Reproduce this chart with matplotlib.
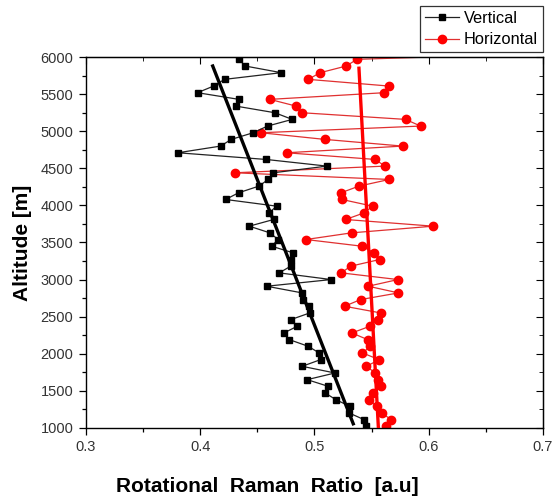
import matplotlib
matplotlib.use("Agg")
import matplotlib.pyplot as plt
from matplotlib.ticker import MultipleLocator

plt.rcParams['font.family'] = ['Liberation Sans', 'DejaVu Sans']

altitude = [1020, 1110, 1200, 1290, 1380, 1470, 1560, 1650, 1740, 1830,
            1920, 2010, 2100, 2190, 2280, 2370, 2460, 2550, 2640, 2730,
            2820, 2910, 3000, 3090, 3180, 3270, 3360, 3450, 3540, 3630,
            3720, 3810, 3900, 3990, 4080, 4170, 4260, 4350, 4440, 4530,
            4620, 4710, 4800, 4890, 4980, 5070, 5160, 5250, 5340, 5430,
            5520, 5610, 5700, 5790, 5880, 5970]

vertical = [0.545, 0.5436, 0.5305, 0.5311, 0.5188, 0.5095, 0.5121, 0.4937, 0.518, 0.4893,
            0.5054, 0.5042, 0.4946, 0.478, 0.4733, 0.485, 0.4794, 0.496, 0.4954, 0.4902,
            0.4893, 0.4582, 0.5147, 0.4692, 0.4792, 0.4792, 0.4815, 0.4625, 0.4683, 0.461,
            0.443, 0.4643, 0.4604, 0.4669, 0.4223, 0.4336, 0.4514, 0.4596, 0.464, 0.511,
            0.4576, 0.3805, 0.4179, 0.4272, 0.4464, 0.459, 0.4806, 0.4654, 0.431, 0.434,
            0.3977, 0.4118, 0.4214, 0.471, 0.4394, 0.434]

altitude_h = altitude + [6060]
horizontal = [0.5626, 0.5672, 0.5591, 0.5544, 0.548, 0.5515, 0.5585, 0.5561, 0.5532, 0.5456,
              0.5567, 0.5421, 0.549, 0.5466, 0.5328, 0.5486, 0.5556, 0.558, 0.5264, 0.5404,
              0.5736, 0.5471, 0.5731, 0.5235, 0.5317, 0.557, 0.5524, 0.5416, 0.4926, 0.5326,
              0.604, 0.5273, 0.5436, 0.5509, 0.5241, 0.5232, 0.539, 0.5655, 0.4304, 0.5617,
              0.5532, 0.4756, 0.5772, 0.5092, 0.4532, 0.5929, 0.5798, 0.489, 0.4838, 0.461,
              0.5611, 0.565, 0.4946, 0.5051, 0.5279, 0.5372, 0.72]

fit_v_x = [0.534, 0.411]
fit_v_alt = [1055, 5880]
fit_h_x = [0.556, 0.539]
fit_h_alt = [1000, 5850]

xticks = [0.3, 0.4, 0.5, 0.6, 0.7]
yticks = [1000, 1500, 2000, 2500, 3000, 3500, 4000, 4500, 5000, 5500, 6000]

fig = plt.figure(figsize=(5.54, 5.01), dpi=100)
ax = fig.add_axes([0.155, 0.146, 0.825, 0.740])

ax.plot(vertical, altitude, color='#222222', lw=0.9, marker='s', ms=5,
        mfc='black', mec='black', label='Vertical', zorder=3)
ax.plot(horizontal, altitude_h, color='#e03030', lw=0.9, marker='o', ms=6,
        mfc='red', mec='red', label='Horizontal', zorder=2)
ax.plot(fit_v_x, fit_v_alt, color='black', lw=2.4, zorder=4)
ax.plot(fit_h_x, fit_h_alt, color='red', lw=2.4, zorder=4)

ax.set_xlim(0.3, 0.7)
ax.set_ylim(1000, 6000)
ax.set_xticks(xticks)
ax.set_yticks(yticks)
ax.set_xticklabels([f"{v:g}" for v in xticks])
ax.set_yticklabels([str(v) for v in yticks])
ax.xaxis.set_minor_locator(MultipleLocator(0.05))
ax.yaxis.set_minor_locator(MultipleLocator(250))
ax.tick_params(which='major', direction='out', length=5, width=0.9,
               labelsize=10.5, labelcolor='#333333', pad=4)
ax.tick_params(which='minor', direction='out', length=3, width=0.9)

for s in ax.spines.values():
    s.set_linewidth(1.0)
    s.set_color('black')

top = ax.secondary_xaxis('top')
top.set_xticks(xticks)
top.xaxis.set_minor_locator(MultipleLocator(0.05))
top.tick_params(which='major', direction='in', length=5, labeltop=False)
top.tick_params(which='minor', direction='in', length=3)
right = ax.secondary_yaxis('right')
right.set_yticks(yticks)
right.yaxis.set_minor_locator(MultipleLocator(250))
right.tick_params(which='major', direction='in', length=5, labelright=False)
right.tick_params(which='minor', direction='in', length=3)

ax.set_xlabel('Rotational  Raman  Ratio  [a.u]', fontsize=15, fontweight='bold')
ax.xaxis.set_label_coords(0.398, -0.132)
ax.set_ylabel('Altitude [m]', fontsize=15, fontweight='bold', labelpad=6)

leg = fig.legend(loc='upper right', bbox_to_anchor=(0.980, 0.988), fontsize=11.8,
                 frameon=True, fancybox=False, borderpad=0.3, labelspacing=0.4,
                 handlelength=2.1, handletextpad=0.3, borderaxespad=0.0)
leg.get_frame().set_edgecolor('black')
leg.get_frame().set_linewidth(0.9)

fig.savefig('out.png', dpi=100)
